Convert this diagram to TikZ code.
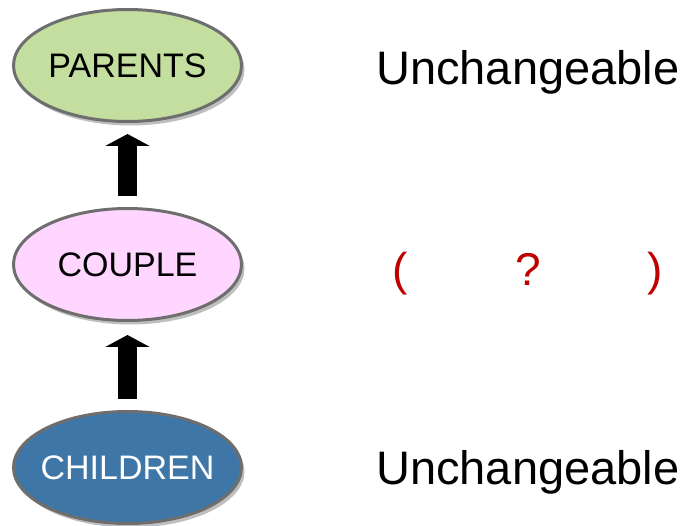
\documentclass[tikz,border=0pt]{standalone}
\usepackage{fontspec}
\setmainfont{Liberation Sans}
\usepackage{xcolor}
\usetikzlibrary{arrows.meta,positioning,shapes.geometric,shadows}

\definecolor{parentgreen}{HTML}{C3DE9E}
\definecolor{couplepink}{HTML}{FFD6FF}
\definecolor{childblue}{HTML}{3E76A8}
\definecolor{rimgray}{HTML}{6E6E6E}
\definecolor{markred}{HTML}{C00000}

\begin{document}
\begin{tikzpicture}[
      x=1pt, y=-1pt,
      oval/.style={ellipse, draw=rimgray, line width=3pt, minimum width=228pt, minimum height=112pt, inner sep=0pt,
        font=\fontsize{34}{36}\selectfont,
        drop shadow={shadow xshift=3pt, shadow yshift=-4pt, opacity=.25, fill=black}},
      note/.style={anchor=base west, inner sep=0pt, font=\fontsize{47}{50}\selectfont},
      redsign/.style={anchor=base, inner sep=0pt, text=markred, font=\fontsize{46}{50}\selectfont},
      arr/.style={-{Triangle[width=44pt,length=12pt]}, line width=19pt},
    ]
    \useasboundingbox (0,0) rectangle (686,526);
    \node[oval, fill=parentgreen] (parents) at (127.5,65.5) {\makebox[0pt]{PARENTS}};
    \node[oval, fill=couplepink, below=84pt of parents] (couple) {\makebox[0pt]{COUPLE}};
    \node[oval, fill=childblue, text=white, below=88pt of couple] (children) {\makebox[0pt]{CHILDREN}};
    \draw[arr, shorten <=11pt, shorten >=11pt] (couple) -- (parents);
    \draw[arr, shorten <=11pt, shorten >=13pt] (children) -- (couple);
    % labels on the right
    \node[note] (topnote) at (376,85) {Unchangeable};
    \node[note] (botnote) at (376,485) {Unchangeable};
    \node[redsign] (lpar) at (400,286) {(};
    \node[redsign] (qmark) at (528,286) {?};
    \node[redsign] (rpar) at (655,286) {)};
  \end{tikzpicture}
\end{document}
